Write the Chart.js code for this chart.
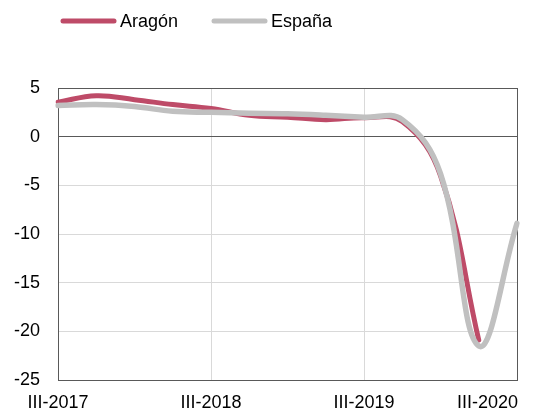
<!DOCTYPE html>
<html>
<head>
<meta charset="utf-8">
<script src="https://cdn.jsdelivr.net/npm/chart.js@4.4.3/dist/chart.umd.min.js"></script>
<style>
  html, body { margin: 0; padding: 0; background: #fff; }
  #wrap { width: 556px; height: 412px; }
</style>
</head>
<body>
<div id="wrap"><canvas id="chart" width="556" height="412"></canvas></div>
<script>
const quarters = ['III-2017', 'IV-2017', 'I-2018', 'II-2018', 'III-2018', 'IV-2018', 'I-2019',
  'II-2019', 'III-2019', 'IV-2019', 'I-2020', 'II-2020', 'III-2020'];
const aragon = [3.55, 4.2, 3.8, 3.3, 2.9, 2.2, 2.0, 1.75, 1.95, 1.55, -4.0, -20.9, null];
const espana = [3.2, 3.3, 3.1, 2.6, 2.5, 2.4, 2.35, 2.2, 2.0, 1.75, -3.8, -21.5, -8.9];
const xTickLabels = ['III-2017', 'III-2018', 'III-2019', 'III-2020'];
const seriesNames = ['Aragón', 'España'];

const FONT = '"Liberation Sans", Arial, sans-serif';
const DARK = '#595959';
const LIGHT = '#d9d9d9';

// legend drawn as thick rounded lines like the original
const lineLegend = {
  id: 'lineLegend',
  afterDraw(chart) {
    const ctx = chart.ctx;
    const items = [{ x: 61, text: 120 }, { x: 212, text: 271 }];
    ctx.save();
    ctx.font = '18px ' + FONT;
    ctx.textBaseline = 'middle';
    ctx.fillStyle = '#000';
    chart.data.datasets.forEach((ds, i) => {
      const it = items[i];
      ctx.strokeStyle = ds.borderColor;
      ctx.lineWidth = 5;
      ctx.lineCap = 'round';
      ctx.beginPath();
      ctx.moveTo(it.x + 2, 21);
      ctx.lineTo(it.x + 53, 21);
      ctx.stroke();
      ctx.fillText(ds.label, it.text, 22);
    });
    ctx.restore();
  }
};

// x labels: centred on their gridline, last one kept inside the plot edge
const xLabels = {
  id: 'xLabels',
  afterDraw(chart) {
    const ctx = chart.ctx;
    const xs = chart.scales.x;
    const area = chart.chartArea;
    ctx.save();
    ctx.font = '18px ' + FONT;
    ctx.fillStyle = '#000';
    ctx.textBaseline = 'alphabetic';
    quarters.forEach((q, i) => {
      if (!xTickLabels.includes(q)) return;
      const w = ctx.measureText(q).width;
      let left = xs.getPixelForValue(i) - w / 2;
      if (left + w > area.right + 1) left = area.right + 1 - w;
      ctx.fillText(q, left, area.bottom + 28);
    });
    ctx.restore();
  }
};

new Chart(document.getElementById('chart'), {
  type: 'line',
  data: {
    labels: quarters,
    datasets: [
      {
        label: seriesNames[0],
        data: aragon,
        borderColor: '#be4b68',
        borderWidth: 5,
        order: 1
      },
      {
        label: seriesNames[1],
        data: espana,
        borderColor: '#c0c0c0',
        borderWidth: 5.5,
        order: 0
      }
    ]
  },
  options: {
    responsive: false,
    animation: false,
    devicePixelRatio: 1,
    layout: { padding: { left: 0, top: 88, right: 39, bottom: 32 } },
    elements: {
      line: { tension: 0.4, borderCapStyle: 'round', borderJoinStyle: 'round', fill: false },
      point: { radius: 0 }
    },
    plugins: {
      legend: { display: false },
      tooltip: { enabled: false }
    },
    scales: {
      x: {
        ticks: { display: false },
        grid: {
          drawTicks: false,
          color: (c) => {
            const i = c.index;
            if (i === quarters.length - 1) return DARK;
            if (i > 0 && i % 4 === 0) return LIGHT;
            return 'rgba(0,0,0,0)';
          }
        },
        border: { display: true, color: DARK, width: 1 },
        afterFit: (s) => { s.height = 0; }
      },
      y: {
        min: -25,
        max: 5,
        ticks: {
          stepSize: 5,
          padding: 18,
          color: '#000',
          font: { family: FONT, size: 18 }
        },
        grid: {
          drawTicks: false,
          color: (c) => {
            const v = c.tick.value;
            if (v === 0 || v === 5 || v === -25) return DARK;
            return LIGHT;
          }
        },
        border: { display: true, color: DARK, width: 1 },
        afterFit: (s) => { s.width = 58; }
      }
    }
  },
  plugins: [lineLegend, xLabels]
});
</script>
</body>
</html>
